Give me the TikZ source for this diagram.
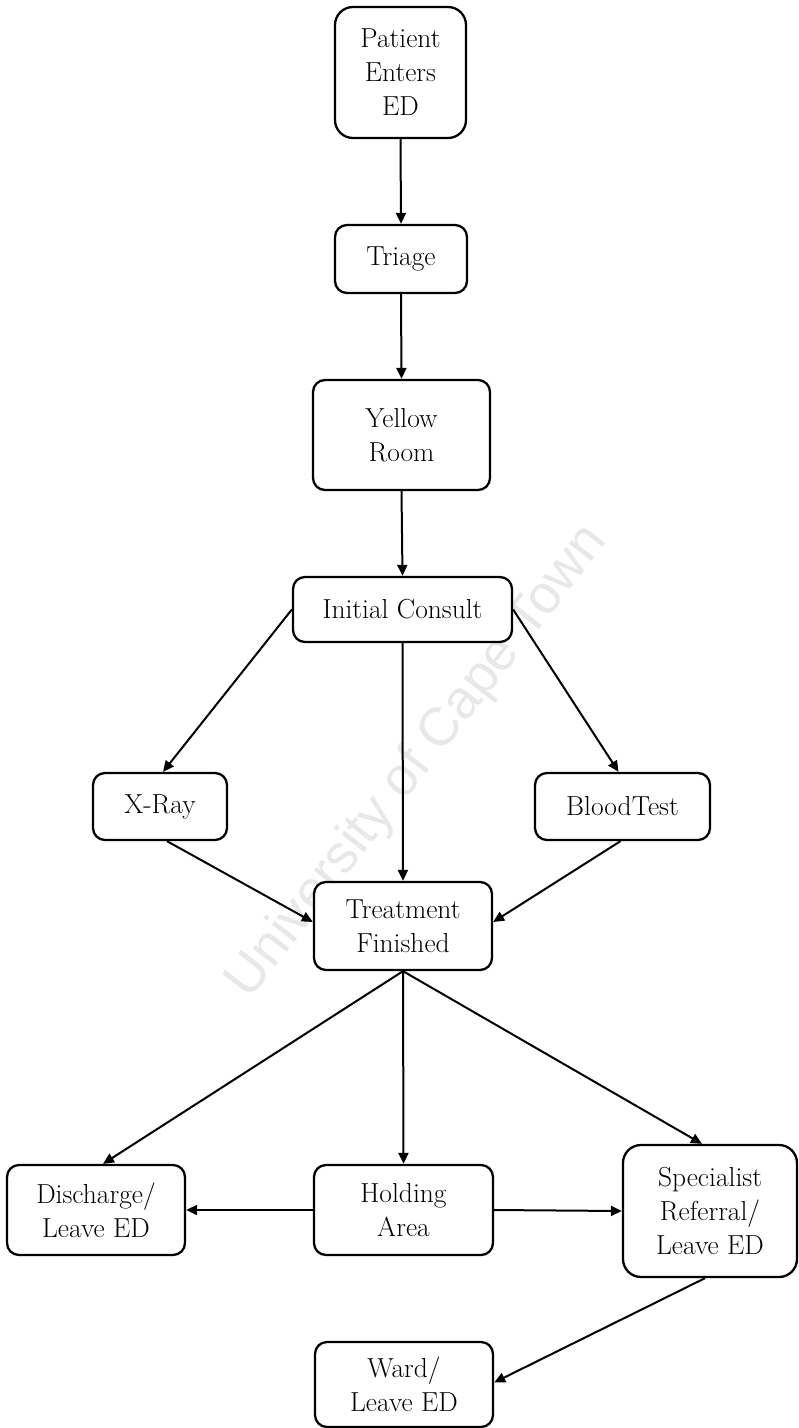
\documentclass[tikz,border=0pt]{standalone}
\usepackage{fontspec}
\newfontfamily\wmfont{Liberation Sans}
\usetikzlibrary{arrows.meta}
\begin{document}
\begin{tikzpicture}[x=1pt,y=-1pt,
  box/.style={draw=black, line width=2.3pt, rounded corners=12pt, fill=white,
    align=center, inner sep=2pt, font=\fontsize{27.5}{34}\selectfont},
  tallbox/.style={box, rounded corners=18pt},
  flow/.style={line width=2pt, -{Triangle[length=11pt,width=10pt]}}]
\useasboundingbox (0,0) rectangle (799,1428);
\fill[white] (0,0) rectangle (799,1428);
% watermark
\node[text=black!9, font=\wmfont\fontsize{54}{60}\selectfont, rotate=52] (wm) at (418,762) {University of Cape Town};
% nodes
\node[tallbox, minimum width=131pt, minimum height=131pt] (pat) at (400.5,72.5) {Patient\\Enters\\ED};
\node[box, minimum width=132pt, minimum height=68pt] (tri) at (401,259) {Triage};
\node[box, minimum width=177pt, minimum height=110pt] (yel) at (401.5,435) {Yellow\\Room};
\node[box, minimum width=219pt, minimum height=65pt] (ini) at (402.5,609.5) {Initial Consult};
\node[box, minimum width=134pt, minimum height=67pt] (xr) at (160,806.5) {X-Ray};
\node[box, minimum width=175pt, minimum height=67pt] (bt) at (622.5,806.5) {BloodTest};
\node[box, minimum width=178pt, minimum height=88pt] (tf) at (403,926) {Treatment\\Finished};
\node[box, minimum width=178pt, minimum height=90pt] (dis) at (96,1210) {Discharge/\\Leave ED};
\node[box, minimum width=179pt, minimum height=90pt] (hol) at (403.5,1210) {Holding\\Area};
\node[tallbox, minimum width=174pt, minimum height=132pt] (spe) at (710,1211) {Specialist\\Referral/\\Leave ED};
\node[box, minimum width=178pt, minimum height=85pt] (war) at (404,1384.5) {Ward/\\Leave ED};
% connectors
\draw[flow] (pat.south) -- (tri.north);
\draw[flow] (tri.south) -- (yel.north);
\draw[flow] (yel.south) -- (ini.north);
\draw[flow] (ini.west) -- ([xshift=3pt]xr.north);
\draw[flow] (ini.east) -- ([xshift=-4pt]bt.north);
\draw[flow] (ini.south) -- (tf.north);
\draw[flow] ([xshift=7pt]xr.south) -- ([yshift=4pt]tf.west);
\draw[flow] ([xshift=-2pt]bt.south) -- ([yshift=4pt]tf.east);
\draw[flow] (tf.south) -- ([xshift=7pt]dis.north);
\draw[flow] (tf.south) -- (hol.north);
\draw[flow] (tf.south) -- ([xshift=-8pt]spe.north);
\draw[flow] (hol.west) -- (dis.east);
\draw[flow] (hol.east) -- (spe.west);
\draw[flow] ([xshift=-5pt]spe.south) -- ([yshift=2pt]war.east);
\end{tikzpicture}
\end{document}
